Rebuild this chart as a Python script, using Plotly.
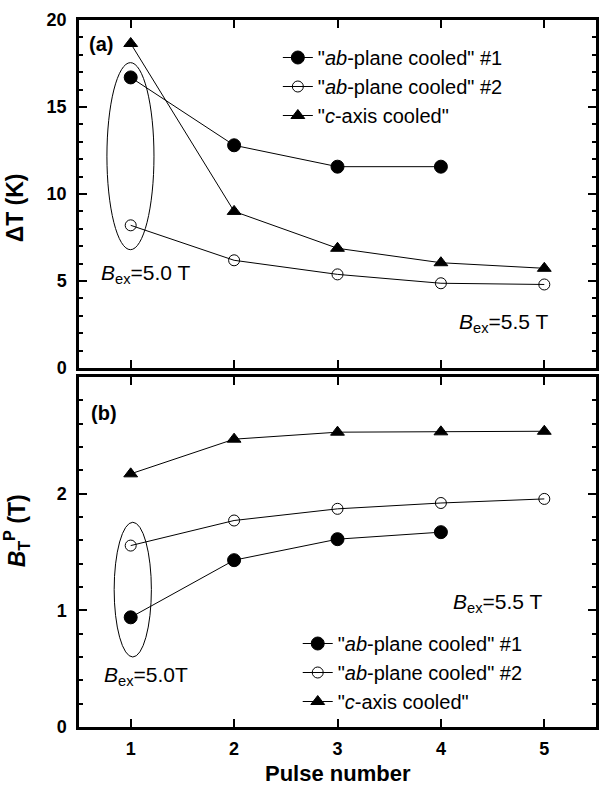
import plotly.graph_objects as go

# ---------------- data ----------------
pulses = [1, 2, 3, 4, 5]
pulses_ab1 = [1, 2, 3, 4]

dT_ab1 = [16.7, 12.8, 11.57, 11.57]
dT_ab2 = [8.2, 6.19, 5.38, 4.87, 4.8]
dT_c = [18.65, 9.0, 6.88, 6.05, 5.73]

BT_ab1 = [0.94, 1.43, 1.61, 1.67]
BT_ab2 = [1.555, 1.77, 1.87, 1.92, 1.955]
BT_c = [2.17, 2.467, 2.527, 2.53, 2.535]

names = ['"<i>ab</i>-plane cooled" #1', '"<i>ab</i>-plane cooled" #2', '"<i>c</i>-axis cooled"']
x_ticks = [1, 2, 3, 4, 5]
y_ticks_a = [0, 5, 10, 15, 20]
y_ticks_b = [0, 1, 2]

FONT = "Liberation Sans, Arial, sans-serif"
BLK = "black"

fig = go.Figure()

styles = [
    dict(symbol="circle", size=13, color=BLK, line=dict(color=BLK, width=1)),
    dict(symbol="circle-open", size=11, color=BLK, line=dict(color=BLK, width=1)),
    dict(symbol="triangle-up", size=12, color=BLK, line=dict(color=BLK, width=1)),
]

top_series = [(pulses_ab1, dT_ab1), (pulses, dT_ab2), (pulses, dT_c)]
bot_series = [(pulses_ab1, BT_ab1), (pulses, BT_ab2), (pulses, BT_c)]

for (xs, ys), nm, st in zip(top_series, names, styles):
    fig.add_trace(go.Scatter(x=xs, y=ys, name=nm, mode="lines+markers",
                             line=dict(color=BLK, width=1), marker=st,
                             xaxis="x", yaxis="y", legend="legend"))
for (xs, ys), nm, st in zip(bot_series, names, styles):
    fig.add_trace(go.Scatter(x=xs, y=ys, name=nm, mode="lines+markers",
                             line=dict(color=BLK, width=1), marker=st,
                             xaxis="x2", yaxis="y2", legend="legend2"))

axis_common = dict(showline=True, linecolor=BLK, linewidth=2.5, mirror="ticks",
                   ticks="inside", tickcolor=BLK, tickwidth=2, ticklen=8,
                   showgrid=False, zeroline=False,
                   tickfont=dict(family=FONT, size=18, color=BLK, weight="bold"))

# geometry (pixels): plot area l=79, r=599; panel a: y 20..368; panel b: y 377..727
H = 787
ML, PW = 79, 520
MT, MB = 20, 60
PH = H - MT - MB
def py(p):
    return (H - MB - p) / PH
def px(p):
    return (p - ML) / PW

fig.update_layout(
    width=600, height=787,
    margin=dict(l=ML, r=1, t=MT, b=MB),
    paper_bgcolor="white", plot_bgcolor="white",
    font=dict(family=FONT, color=BLK),
    xaxis=dict(**axis_common, domain=[0, 1], range=[0.5, 5.5], tickvals=x_ticks,
               showticklabels=False, anchor="y"),
    yaxis=dict(**axis_common, domain=[py(368), 1], range=[0, 20], tickvals=y_ticks_a,
               minor=dict(dtick=1, ticks="inside", ticklen=4, tickwidth=1.5, tickcolor=BLK),
               ticklabelstandoff=6, anchor="x"),
    xaxis2=dict(**axis_common, domain=[0, 1], range=[0.5, 5.5], tickvals=x_ticks,
                ticklabelstandoff=4, anchor="y2"),
    yaxis2=dict(**axis_common, domain=[0, py(377)], range=[0, 3], tickvals=y_ticks_b,
                minor=dict(dtick=0.2, ticks="inside", ticklen=4, tickwidth=1.5, tickcolor=BLK),
                ticklabelstandoff=6, anchor="x2"),
    legend=dict(x=px(279), y=py(38), xanchor="left", yanchor="top",
                bgcolor="rgba(0,0,0,0)", borderwidth=0,
                font=dict(family=FONT, size=20, color=BLK), tracegroupgap=0),
    legend2=dict(x=px(299), y=py(624), xanchor="left", yanchor="top",
                 bgcolor="rgba(0,0,0,0)", borderwidth=0,
                 font=dict(family=FONT, size=20, color=BLK), tracegroupgap=0),
    showlegend=True,
)

# ellipses
fig.add_shape(type="circle", xref="x", yref="y", x0=0.77, x1=1.225, y0=6.8, y1=17.55,
              line=dict(color=BLK, width=1))
fig.add_shape(type="circle", xref="x2", yref="y2", x0=0.84, x1=1.2, y0=0.60, y1=1.755,
              line=dict(color=BLK, width=1))

# axis titles as annotations
title_font = dict(family=FONT, size=23, color=BLK)
fig.add_annotation(x=px(15), y=py(208), xref="paper", yref="paper",
                   text="<b>ΔT (K)</b>", textangle=-90, showarrow=False,
                   xanchor="center", yanchor="middle", font=title_font)
fig.add_annotation(x=px(16), y=py(531), xref="paper", yref="paper",
                   text="<b><i>B</i><sub>T</sub><sup>P</sup> (T)</b>", textangle=-90,
                   showarrow=False, xanchor="center", yanchor="middle", font=title_font)
fig.add_annotation(x=0.5, y=py(773), xref="paper", yref="paper",
                   text="<b>Pulse number</b>", showarrow=False,
                   xanchor="center", yanchor="middle", font=dict(family=FONT, size=22, color=BLK))

ann_font = dict(family=FONT, size=21, color=BLK)
fig.add_annotation(x=0.575, y=18.6, xref="x", yref="y", text="<b>(a)</b>", showarrow=False,
                   xanchor="left", yanchor="middle", font=dict(family=FONT, size=20, color=BLK))
fig.add_annotation(x=0.6, y=2.69, xref="x2", yref="y2", text="<b>(b)</b>", showarrow=False,
                   xanchor="left", yanchor="middle", font=dict(family=FONT, size=20, color=BLK))
fig.add_annotation(x=0.69, y=5.4, xref="x", yref="y", text="<i>B</i><sub>ex</sub>=5.0 T",
                   showarrow=False, xanchor="left", yanchor="middle", font=ann_font)
fig.add_annotation(x=4.16, y=2.6, xref="x", yref="y", text="<i>B</i><sub>ex</sub>=5.5 T",
                   showarrow=False, xanchor="left", yanchor="middle", font=ann_font)
fig.add_annotation(x=0.72, y=0.44, xref="x2", yref="y2", text="<i>B</i><sub>ex</sub>=5.0T",
                   showarrow=False, xanchor="left", yanchor="middle", font=ann_font)
fig.add_annotation(x=4.1, y=1.06, xref="x2", yref="y2", text="<i>B</i><sub>ex</sub>=5.5 T",
                   showarrow=False, xanchor="left", yanchor="middle", font=ann_font)

fig.write_html("out.html")
